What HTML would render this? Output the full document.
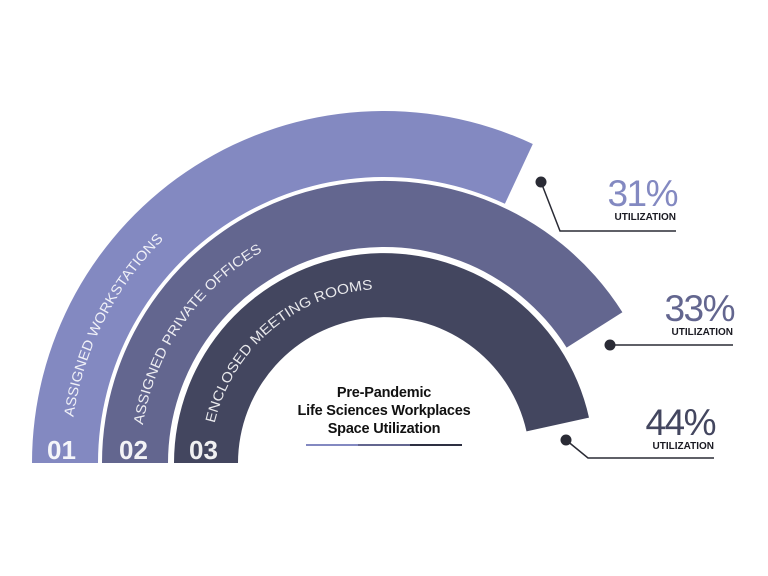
<!DOCTYPE html>
<html><head><meta charset="utf-8"><style>
html,body{margin:0;padding:0;background:#fff;}
svg{display:block;font-family:"Liberation Sans",sans-serif;}
</style></head><body>
<svg width="768" height="576" viewBox="0 0 768 576" xmlns="http://www.w3.org/2000/svg">
<defs>
<path id="t1" d="M 70 463 A 314 314 0 0 1 384 149"/>
<path id="t2" d="M 140 463 A 244 244 0 0 1 384 219"/>
<path id="t3" d="M 210 463 A 174 174 0 0 1 384 289"/>
</defs>
<path d="M 32 463 A 352 352 0 0 1 532.8 144 L 504.9 203.8 A 286 286 0 0 0 98 463 Z" fill="#8389c1"/>
<path d="M 102 463 A 282 282 0 0 1 622.4 312.3 L 566.6 347.6 A 216 216 0 0 0 168 463 Z" fill="#63668f"/>
<path d="M 174 463 A 210 210 0 0 1 589 417.6 L 526.5 431.4 A 146 146 0 0 0 238 463 Z" fill="#43465f"/>
<g fill="#fff" fill-opacity="0.88" font-size="14">
<text><textPath href="#t1" startOffset="46" textLength="203" lengthAdjust="spacingAndGlyphs">ASSIGNED WORKSTATIONS</textPath></text>
<text><textPath href="#t2" startOffset="38" textLength="218" lengthAdjust="spacingAndGlyphs">ASSIGNED PRIVATE OFFICES</textPath></text>
<text><textPath href="#t3" startOffset="40" textLength="222" lengthAdjust="spacingAndGlyphs">ENCLOSED MEETING ROOMS</textPath></text>
</g>
<g fill="#fff" fill-opacity="0.92" font-size="26" font-weight="bold">
<text x="47" y="459">01</text>
<text x="119" y="459">02</text>
<text x="189" y="459">03</text>
</g>
<g fill="#111" font-size="14.5" font-weight="bold" text-anchor="middle" letter-spacing="-0.2">
<text x="384" y="397">Pre-Pandemic</text>
<text x="384" y="415">Life Sciences Workplaces</text>
<text x="384" y="433">Space Utilization</text>
</g>
<rect x="306" y="444" width="52" height="2" fill="#8389c1"/>
<rect x="358" y="444" width="52" height="2" fill="#63668f"/>
<rect x="410" y="444" width="52" height="2" fill="#2e3042"/>
<g stroke="#2a2b35" stroke-width="1.5" fill="none">
<polyline points="541,182 560,231 676,231"/>
<polyline points="610,345 733,345"/>
<polyline points="566,440 588,458 714,458"/>
</g>
<g fill="#2a2b35">
<circle cx="541" cy="182" r="5.5"/>
<circle cx="610" cy="345" r="5.5"/>
<circle cx="566" cy="440" r="5.5"/>
</g>
<g font-size="37" text-anchor="end" letter-spacing="-1.5">
<text x="677" y="206" fill="#8389c1">31%</text>
<text x="734" y="321" fill="#63668f">33%</text>
<text x="715" y="435" fill="#43465f">44%</text>
</g>
<g font-size="10" font-weight="bold" text-anchor="end" fill="#1a1a22">
<text x="676" y="220">UTILIZATION</text>
<text x="733" y="335">UTILIZATION</text>
<text x="714" y="449">UTILIZATION</text>
</g>
</svg>
</body></html>
